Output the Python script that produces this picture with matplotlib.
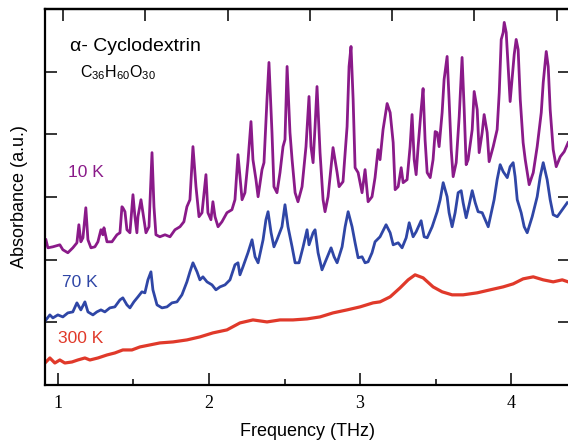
# THz absorbance spectra of alpha-cyclodextrin at three temperatures

import matplotlib
matplotlib.use('Agg')
import matplotlib.pyplot as plt

plt.rcParams['font.family'] = ['Liberation Sans', 'DejaVu Sans']
plt.rcParams['mathtext.fontset'] = 'custom'
plt.rcParams['mathtext.rm'] = 'Liberation Sans'
plt.rcParams['mathtext.it'] = 'Liberation Sans:italic'

# spectra (frequency in THz, absorbance in a.u.)
freq_10k = [0.921, 0.934, 0.967, 1.013, 1.033, 1.066, 1.099, 1.126, 1.139, 1.152,
            1.166, 1.185, 1.199, 1.219, 1.245, 1.265, 1.285, 1.298, 1.305, 1.325,
            1.358, 1.391, 1.411, 1.424, 1.430, 1.444, 1.457, 1.477, 1.497, 1.510,
            1.523, 1.530, 1.550, 1.563, 1.583, 1.603, 1.623, 1.636, 1.649, 1.675,
            1.709, 1.742, 1.775, 1.808, 1.834, 1.854, 1.874, 1.894, 1.914, 1.934,
            1.954, 1.980, 1.993, 2.013, 2.026, 2.040, 2.060, 2.086, 2.119, 2.152,
            2.172, 2.192, 2.219, 2.238, 2.258, 2.278, 2.291, 2.311, 2.325, 2.351,
            2.364, 2.384, 2.397, 2.417, 2.430, 2.450, 2.470, 2.490, 2.503, 2.517,
            2.536, 2.550, 2.570, 2.589, 2.616, 2.642, 2.662, 2.675, 2.689, 2.702,
            2.715, 2.735, 2.755, 2.768, 2.788, 2.815, 2.821, 2.848, 2.861, 2.887,
            2.914, 2.927, 2.940, 2.954, 2.967, 2.987, 3.013, 3.033, 3.053, 3.079,
            3.099, 3.119, 3.132, 3.152, 3.179, 3.199, 3.219, 3.232, 3.252, 3.272,
            3.285, 3.311, 3.331, 3.344, 3.358, 3.371, 3.384, 3.404, 3.417, 3.430,
            3.444, 3.464, 3.483, 3.497, 3.510, 3.523, 3.543, 3.556, 3.576, 3.589,
            3.603, 3.616, 3.636, 3.656, 3.675, 3.689, 3.702, 3.715, 3.742, 3.755,
            3.775, 3.788, 3.808, 3.821, 3.841, 3.854, 3.881, 3.907, 3.921, 3.934,
            3.947, 3.954, 3.967, 3.980, 3.993, 4.007, 4.020, 4.033, 4.046, 4.060,
            4.079, 4.093, 4.119, 4.146, 4.172, 4.199, 4.212, 4.232, 4.245, 4.258,
            4.278, 4.298, 4.325, 4.351, 4.377]
abs_10k = [2.316, 2.188, 2.204, 2.236, 2.157, 2.109, 2.188, 2.268, 2.556, 2.284,
           2.348, 2.827, 2.316, 2.188, 2.204, 2.284, 2.476, 2.396, 2.508, 2.284,
           2.284, 2.396, 2.428, 2.843, 2.827, 2.764, 2.476, 2.428, 3.035, 2.684,
           2.428, 2.684, 2.955, 2.748, 2.428, 2.524, 3.706, 2.843, 2.396, 2.364,
           2.396, 2.364, 2.476, 2.524, 2.604, 2.843, 2.955, 3.802, 3.163, 2.684,
           2.748, 3.355, 2.748, 2.636, 2.923, 2.684, 2.524, 2.604, 2.748, 2.796,
           2.955, 3.674, 2.955, 3.067, 3.562, 4.201, 3.594, 3.275, 3.003, 3.435,
           3.546, 4.553, 5.144, 4.026, 3.163, 3.067, 3.387, 3.802, 3.914, 5.080,
           4.026, 3.594, 3.067, 2.923, 3.163, 3.802, 4.601, 3.802, 3.546, 4.121,
           4.760, 3.706, 2.955, 2.764, 3.003, 3.642, 3.786, 3.387, 3.163, 3.243,
           4.121, 5.080, 5.399, 4.553, 3.466, 3.387, 3.067, 3.435, 2.923, 3.003,
           3.307, 3.754, 3.594, 4.073, 4.489, 4.345, 3.866, 3.115, 3.163, 3.466,
           3.227, 3.275, 3.802, 4.313, 3.594, 3.355, 3.802, 4.393, 4.728, 3.914,
           3.387, 3.307, 3.594, 4.042, 4.026, 3.802, 4.345, 4.872, 5.240, 4.553,
           3.754, 3.323, 3.546, 4.281, 5.224, 4.393, 3.514, 3.594, 4.073, 4.681,
           4.393, 3.706, 4.026, 4.313, 4.026, 3.562, 3.802, 4.073, 4.665, 5.511,
           5.623, 5.783, 5.623, 5.080, 4.521, 4.920, 5.272, 5.511, 5.351, 4.553,
           3.866, 3.594, 3.195, 3.387, 3.802, 4.345, 4.824, 5.319, 5.080, 4.393,
           3.754, 3.482, 3.642, 3.722, 3.866]

freq_70k = [0.921, 0.947, 0.967, 1.000, 1.033, 1.066, 1.099, 1.126, 1.152, 1.179,
            1.199, 1.232, 1.258, 1.285, 1.311, 1.344, 1.377, 1.411, 1.430, 1.457,
            1.477, 1.503, 1.530, 1.556, 1.576, 1.596, 1.616, 1.629, 1.656, 1.689,
            1.722, 1.755, 1.788, 1.821, 1.854, 1.874, 1.894, 1.921, 1.940, 1.960,
            1.987, 2.020, 2.046, 2.073, 2.106, 2.139, 2.172, 2.192, 2.205, 2.225,
            2.258, 2.285, 2.305, 2.325, 2.358, 2.377, 2.391, 2.411, 2.430, 2.450,
            2.483, 2.503, 2.523, 2.550, 2.570, 2.596, 2.623, 2.649, 2.662, 2.689,
            2.702, 2.722, 2.748, 2.775, 2.808, 2.828, 2.848, 2.881, 2.901, 2.921,
            2.947, 2.967, 2.987, 3.013, 3.033, 3.053, 3.079, 3.099, 3.132, 3.172,
            3.199, 3.219, 3.252, 3.278, 3.305, 3.325, 3.351, 3.371, 3.404, 3.424,
            3.444, 3.477, 3.510, 3.530, 3.550, 3.576, 3.589, 3.609, 3.629, 3.649,
            3.669, 3.682, 3.702, 3.722, 3.742, 3.762, 3.781, 3.808, 3.828, 3.848,
            3.868, 3.887, 3.907, 3.927, 3.947, 3.974, 3.993, 4.013, 4.026, 4.040,
            4.066, 4.086, 4.106, 4.139, 4.172, 4.192, 4.212, 4.238, 4.258, 4.278,
            4.305, 4.338, 4.371]
abs_70k = [1.038, 1.118, 1.070, 1.118, 1.086, 1.150, 1.166, 1.310, 1.198, 1.326,
           1.166, 1.118, 1.166, 1.198, 1.166, 1.230, 1.246, 1.358, 1.390, 1.278,
           1.230, 1.326, 1.406, 1.486, 1.470, 1.677, 1.805, 1.518, 1.278, 1.230,
           1.246, 1.310, 1.326, 1.438, 1.645, 1.805, 1.949, 1.805, 1.677, 1.725,
           1.645, 1.597, 1.518, 1.565, 1.597, 1.677, 1.917, 1.949, 1.757, 1.885,
           2.109, 2.316, 2.045, 1.949, 2.316, 2.636, 2.764, 2.428, 2.204, 2.316,
           2.524, 2.875, 2.524, 2.204, 1.949, 1.949, 2.204, 2.476, 2.236, 2.428,
           2.476, 2.109, 1.837, 1.997, 2.188, 2.045, 1.949, 2.204, 2.524, 2.764,
           2.524, 2.268, 2.029, 2.045, 1.949, 1.965, 2.109, 2.284, 2.364, 2.556,
           2.428, 2.236, 2.268, 2.188, 2.348, 2.588, 2.364, 2.444, 2.620, 2.364,
           2.348, 2.524, 2.764, 2.955, 3.227, 3.003, 2.748, 2.524, 2.748, 3.067,
           3.099, 2.907, 2.668, 2.875, 3.099, 2.907, 2.764, 2.748, 2.636, 2.524,
           2.748, 2.955, 3.275, 3.514, 3.403, 3.307, 3.482, 3.546, 3.323, 2.955,
           2.748, 2.524, 2.428, 2.684, 3.003, 3.323, 3.546, 3.275, 2.955, 2.716,
           2.684, 2.796, 2.907]

freq_300k = [0.921, 0.947, 0.980, 1.013, 1.046, 1.093, 1.132, 1.179, 1.212, 1.265,
             1.325, 1.377, 1.430, 1.490, 1.543, 1.609, 1.675, 1.762, 1.854, 1.940,
             2.026, 2.119, 2.205, 2.291, 2.384, 2.470, 2.556, 2.649, 2.735, 2.821,
             2.914, 3.000, 3.086, 3.132, 3.199, 3.265, 3.318, 3.364, 3.417, 3.483,
             3.543, 3.609, 3.682, 3.775, 3.861, 3.947, 4.013, 4.079, 4.146, 4.212,
             4.278, 4.338, 4.377]
abs_300k = [0.367, 0.431, 0.351, 0.399, 0.351, 0.367, 0.399, 0.431, 0.399, 0.431,
            0.479, 0.511, 0.559, 0.559, 0.607, 0.639, 0.671, 0.687, 0.719, 0.767,
            0.831, 0.879, 0.990, 1.038, 1.006, 1.038, 1.038, 1.054, 1.086, 1.150,
            1.198, 1.246, 1.310, 1.326, 1.406, 1.550, 1.677, 1.757, 1.709, 1.565,
            1.486, 1.438, 1.438, 1.470, 1.518, 1.565, 1.613, 1.693, 1.725, 1.677,
            1.645, 1.677, 1.645]

c_10k = '#8a1a89'
c_70k = '#2f46a6'
c_300k = '#e0392a'

fig = plt.figure(figsize=(5.68, 4.40), dpi=100)
ax = fig.add_axes([0.079, 0.125, 0.925, 0.855])

ax.plot(freq_300k, abs_300k, color=c_300k, lw=2.3)
ax.plot(freq_70k, abs_70k, color=c_70k, lw=2.0)
ax.plot(freq_10k, abs_10k, color=c_10k, lw=2.0)

ax.set_xlim(0.914, 4.391)
ax.set_ylim(0, 6)

# bottom axis: labelled ticks in serif, minor at the halves
ax.set_xticks([1, 2, 3, 4])
ax.set_xticks([1.5, 2.5, 3.5], minor=True)
ax.set_xticklabels(['1', '2', '3', '4'], family='Liberation Serif', fontsize=13)
ax.set_yticks([1, 2, 3, 4, 5])
ax.set_yticklabels([])
ax.tick_params(axis='both', which='major', direction='in', length=8.5, width=1.1,
               right=True, pad=7)
ax.tick_params(axis='x', which='minor', direction='in', length=4.5, width=1.1)
ax.tick_params(axis='y', which='minor', left=False, right=False)

# top axis has its own tick spacing
top = ax.secondary_xaxis('top')
top.set_xticks([1.033, 1.576, 2.126, 2.669, 3.212, 3.755, 4.305])
top.set_xticklabels([])
top.tick_params(direction='in', length=8.5, width=1.1)

for sp in ax.spines.values():
    sp.set_linewidth(1.6)
top.spines['top'].set_linewidth(1.6)

ax.set_xlabel('Frequency (THz)', fontsize=13, labelpad=8)
ax.set_ylabel('Absorbance (a.u.)', fontsize=13, labelpad=5)

ax.text(1.079, 5.40, 'α- Cyclodextrin', fontsize=14, va='center')
ax.text(1.146, 4.98, r'C$_{36}$H$_{60}$O$_{30}$', fontsize=11.5, va='center')

ax.text(1.066, 3.39, '10 K', color=c_10k, fontsize=12.5, va='center')
ax.text(1.026, 1.63, '70 K', color=c_70k, fontsize=12.5, va='center')
ax.text(1.000, 0.74, '300 K', color=c_300k, fontsize=12.5, va='center')

fig.savefig('out.png', dpi=100)
